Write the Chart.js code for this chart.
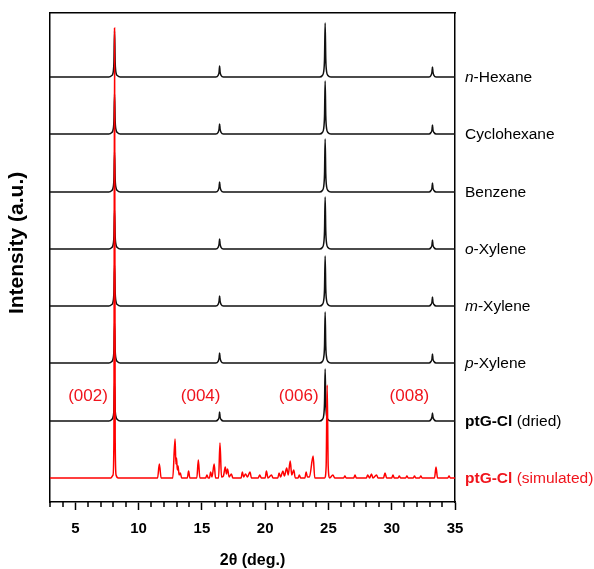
<!DOCTYPE html>
<html>
<head>
<meta charset="utf-8">
<script src="https://cdn.jsdelivr.net/npm/chart.js@4.4.1/dist/chart.umd.min.js"></script>
<style>
  html, body { margin: 0; padding: 0; background: #fff; }
  #wrap { width: 594px; height: 569px; }
</style>
</head>
<body>
<div id="wrap"><canvas id="xrdChart"></canvas></div>
<script>
// 2θ positions shared by the measured (black) patterns
const blackTheta = [3, 7.65, 7.88, 7.98, 8.05, 8.1, 8.15, 8.22, 8.32, 8.55,
    16.1, 16.28, 16.36, 16.4, 16.44, 16.52, 16.7,
    24.3, 24.52, 24.62, 24.69, 24.74, 24.79, 24.86, 24.96, 25.2,
    32.95, 33.1, 33.18, 33.22, 33.26, 33.34, 33.5, 35];

// intensities (a.u.) of each measured pattern at blackTheta
const hexane      = [0, 0, 1.5, 4, 15, 46, 15, 4, 1.5, 0,  0, 1.5, 5, 11, 5, 1.5, 0,  0, 1.5, 5, 18, 54, 18, 5, 1.5, 0,  0, 1.5, 5, 10, 5, 1.5, 0, 0];
const cyclohexane = [0, 0, 1.5, 4, 13, 40, 13, 4, 1.5, 0,  0, 1.5, 5, 10, 5, 1.5, 0,  0, 1.5, 5, 18, 53, 18, 5, 1.5, 0,  0, 1.5, 4, 9, 4, 1.5, 0, 0];
const benzene     = [0, 0, 1.5, 4, 13, 40, 13, 4, 1.5, 0,  0, 1.5, 5, 10, 5, 1.5, 0,  0, 1.5, 5, 18, 53, 18, 5, 1.5, 0,  0, 1.5, 4, 9, 4, 1.5, 0, 0];
const oXylene     = [0, 0, 1.5, 4, 13, 39, 13, 4, 1.5, 0,  0, 1.5, 5, 10, 5, 1.5, 0,  0, 1.5, 5, 18, 52, 18, 5, 1.5, 0,  0, 1.5, 4, 9, 4, 1.5, 0, 0];
const mXylene     = [0, 0, 1.5, 4, 14, 41, 14, 4, 1.5, 0,  0, 1.5, 5, 10, 5, 1.5, 0,  0, 1.5, 5, 17, 50, 17, 5, 1.5, 0,  0, 1.5, 4, 9, 4, 1.5, 0, 0];
const pXylene     = [0, 0, 1.5, 4, 13, 40, 13, 4, 1.5, 0,  0, 1.5, 5, 10, 5, 1.5, 0,  0, 1.5, 5, 17, 51, 17, 5, 1.5, 0,  0, 1.5, 4, 9, 4, 1.5, 0, 0];
const dried       = [0, 0, 1.5, 4, 12, 38, 12, 4, 1.5, 0,  0, 1.5, 4, 9, 4, 1.5, 0,   0, 1.5, 5, 18, 52, 18, 5, 1.5, 0,  0, 1.5, 4, 8, 4, 1.5, 0, 0];

// simulated pattern as [2θ, intensity] pairs
const simulated = [
    [3, 0], [7.8, 0], [7.98, 3], [8.05, 40], [8.1, 450], [8.15, 40], [8.22, 3], [8.4, 0],
    [11.5, 0], [11.64, 14], [11.78, 0],
    [12.7, 0], [12.88, 39], [12.95, 14], [13.0, 20], [13.06, 8], [13.12, 12], [13.2, 3], [13.3, 5], [13.4, 0],
    [13.85, 0], [13.95, 7], [14.05, 0],
    [14.6, 0], [14.72, 18], [14.84, 0],
    [15.3, 0], [15.4, 3], [15.5, 0],
    [15.6, 0], [15.69, 6], [15.8, 1], [15.97, 14], [16.08, 0],
    [16.32, 0], [16.43, 35], [16.55, 1], [16.7, 2], [16.85, 11], [16.94, 4], [17.03, 9], [17.15, 1], [17.33, 4], [17.45, 0],
    [18.1, 0], [18.2, 6], [18.3, 1], [18.45, 4], [18.6, 1], [18.8, 6], [18.92, 0],
    [19.45, 0], [19.57, 3], [19.7, 0],
    [20.0, 0], [20.1, 7], [20.22, 0], [20.5, 3], [20.62, 0],
    [21.0, 0], [21.1, 5], [21.22, 1], [21.4, 7], [21.52, 2], [21.7, 10], [21.82, 3], [21.98, 17], [22.1, 3], [22.26, 8], [22.38, 0],
    [22.6, 0], [22.7, 3], [22.8, 0],
    [23.14, 0], [23.24, 6], [23.34, 1], [23.5, 1], [23.79, 22], [23.92, 0],
    [24.7, 0], [24.82, 12], [24.9, 93], [24.98, 12], [25.1, 0],
    [25.35, 3], [25.5, 0],
    [26.2, 0], [26.3, 2], [26.4, 0],
    [27.0, 0], [27.1, 3], [27.2, 0],
    [28.0, 0], [28.1, 3], [28.25, 0], [28.4, 4], [28.52, 0], [28.8, 3], [28.92, 0],
    [29.35, 0], [29.47, 5], [29.6, 0],
    [30.0, 0], [30.1, 3], [30.2, 0],
    [30.5, 0], [30.6, 2], [30.7, 0],
    [31.1, 0], [31.2, 2], [31.3, 0],
    [31.7, 0], [31.8, 2], [31.9, 0],
    [32.2, 0], [32.3, 2], [32.4, 0],
    [33.38, 0], [33.5, 11], [33.62, 0],
    [34.43, 0], [34.53, 2], [34.63, 0], [35, 0]
];

// stacking offsets, bottom to top
const offsets = [24, 81, 139, 196, 253, 310, 368, 425];

// labels on the right, bottom to top: [text, font style] parts
const traceNames = [
    [['ptG-Cl', 'bold'], [' (simulated)', 'normal']],
    [['ptG-Cl', 'bold'], [' (dried)', 'normal']],
    [['p', 'italic'], ['-Xylene', 'normal']],
    [['m', 'italic'], ['-Xylene', 'normal']],
    [['o', 'italic'], ['-Xylene', 'normal']],
    [['Benzene', 'normal']],
    [['Cyclohexane', 'normal']],
    [['n', 'italic'], ['-Hexane', 'normal']]
];

const hklLabels = ['(002)', '(004)', '(006)', '(008)'];
const hklTheta = [6.0, 14.9, 22.65, 31.4];
const hklLevel = 106;

const FONT = "'Liberation Sans', Arial, Helvetica, sans-serif";
const RED = 'rgb(240, 20, 28)';

const blackSeries = [dried, pXylene, mXylene, oXylene, benzene, cyclohexane, hexane];

const datasets = [{
    data: simulated.map(p => ({ x: p[0], y: p[1] + offsets[0] })),
    borderColor: 'rgb(255, 0, 0)',
    borderWidth: 1.5
}];
blackSeries.forEach((vals, i) => {
    datasets.push({
        data: blackTheta.map((t, j) => ({ x: t, y: vals[j] + offsets[i + 1] })),
        borderColor: '#111',
        borderWidth: 1.5
    });
});
datasets.forEach(ds => {
    ds.pointRadius = 0;
    ds.fill = false;
    ds.cubicInterpolationMode = 'monotone';
    ds.xAxisID = 'x';
    ds.yAxisID = 'y';
});

// right-hand labels, hkl labels and minor x ticks
const annotations = {
    id: 'annotations',
    afterDraw(chart) {
        const { ctx, chartArea, scales: { x, y } } = chart;
        ctx.save();
        ctx.textBaseline = 'middle';
        ctx.textAlign = 'left';
        traceNames.forEach((parts, i) => {
            let px = chartArea.right + 10;
            const py = y.getPixelForValue(offsets[i]) + 1;
            ctx.fillStyle = i === 0 ? RED : '#000';
            parts.forEach(([txt, style]) => {
                ctx.font = style + ' 15.5px ' + FONT;
                ctx.fillText(txt, px, py);
                px += ctx.measureText(txt).width;
            });
        });

        ctx.font = '17px ' + FONT;
        ctx.fillStyle = RED;
        ctx.textAlign = 'center';
        hklLabels.forEach((t, i) => {
            ctx.fillText(t, x.getPixelForValue(hklTheta[i]), y.getPixelForValue(hklLevel));
        });

        ctx.strokeStyle = '#000';
        ctx.lineWidth = 1.5;
        x.ticks.forEach(tk => {
            if (tk.value % 5 === 0) return;
            const px = Math.round(x.getPixelForValue(tk.value));
            ctx.beginPath();
            ctx.moveTo(px, chartArea.bottom);
            ctx.lineTo(px, chartArea.bottom + 5);
            ctx.stroke();
        });
        ctx.restore();
    }
};

new Chart(document.getElementById('xrdChart'), {
    type: 'line',
    data: { datasets: datasets },
    options: {
        responsive: true,
        maintainAspectRatio: false,
        animation: false,
        devicePixelRatio: 1,
        layout: { padding: 0 },
        plugins: { legend: { display: false }, tooltip: { enabled: false } },
        scales: {
            x: {
                type: 'linear',
                position: 'bottom',
                min: 3,
                max: 35,
                afterFit: s => { s.height = 67; },
                ticks: {
                    stepSize: 1,
                    autoSkip: false,
                    maxRotation: 0,
                    padding: 10,
                    color: '#000',
                    font: { family: FONT, size: 15, weight: 'bold' },
                    callback: v => (v % 5 === 0 ? v : '')
                },
                grid: {
                    display: true,
                    drawOnChartArea: false,
                    tickLength: 8,
                    tickWidth: 1.5,
                    tickColor: c => (c.tick && c.tick.value % 5 === 0 ? '#000' : 'rgba(0,0,0,0)')
                },
                border: { display: true, color: '#000', width: 1.5 },
                title: {
                    display: true,
                    text: '2θ (deg.)',
                    color: '#000',
                    font: { family: FONT, size: 16, weight: 'bold', lineHeight: 1 },
                    padding: { top: 0, bottom: 0 }
                }
            },
            x2: {
                type: 'linear',
                position: 'top',
                min: 3,
                max: 35,
                afterFit: s => { s.height = 13; },
                ticks: { display: false },
                grid: { display: false },
                border: { display: true, color: '#000', width: 1.5 }
            },
            y: {
                type: 'linear',
                position: 'left',
                min: 0,
                max: 489,
                afterFit: s => { s.width = 50; },
                ticks: { display: false },
                grid: { display: false },
                border: { display: true, color: '#000', width: 1.5 },
                title: {
                    display: true,
                    text: '     Intensity (a.u.)',
                    color: '#000',
                    font: { family: FONT, size: 21, weight: 'bold', lineHeight: 1.2 },
                    padding: { top: 5, bottom: 0 }
                }
            },
            y2: {
                type: 'linear',
                position: 'right',
                min: 0,
                max: 489,
                afterFit: s => { s.width = 139; },
                ticks: { display: false },
                grid: { display: false },
                border: { display: true, color: '#000', width: 1.5 }
            }
        }
    },
    plugins: [annotations]
});
</script>
</body>
</html>
